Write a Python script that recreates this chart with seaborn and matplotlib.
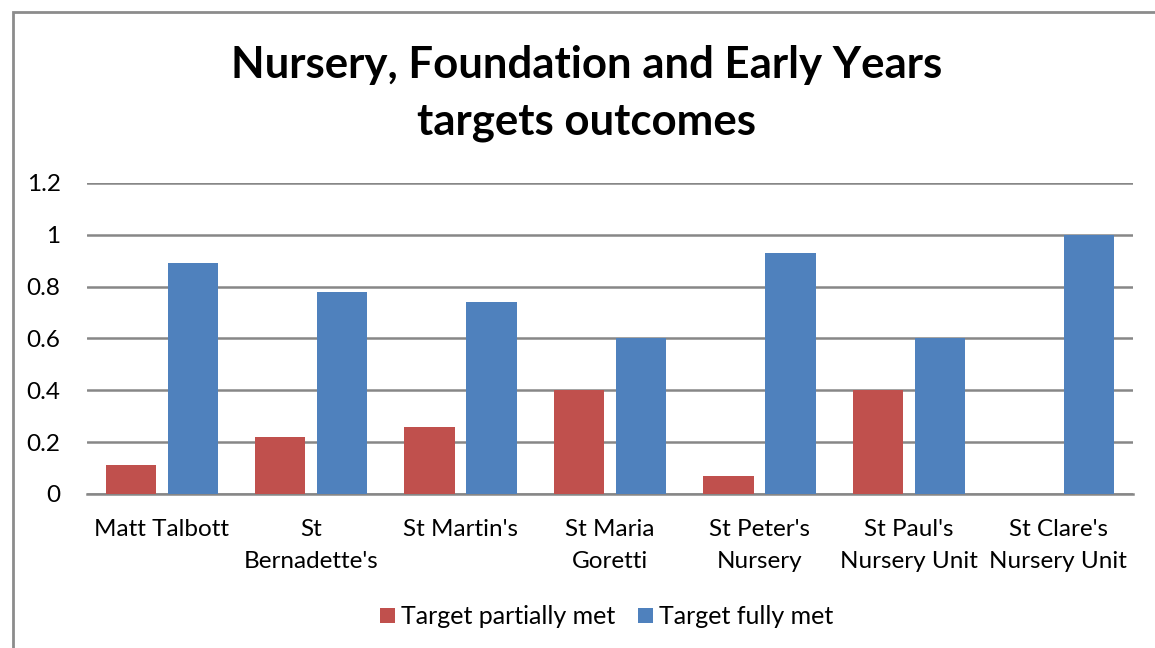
import matplotlib
matplotlib.use("Agg")
import matplotlib.pyplot as plt
import matplotlib.patches as mpatches
import seaborn as sns
import pandas as pd

schools = ["Matt Talbott", "St\nBernadette's", "St Martin's", "St Maria\nGoretti",
           "St Peter's\nNursery", "St Paul's\nNursery Unit", "St Clare's\nNursery Unit"]
partially_met = [0.11, 0.22, 0.26, 0.40, 0.07, 0.40, 0.0]
fully_met = [0.89, 0.78, 0.74, 0.60, 0.93, 0.60, 1.0]
series = ["Target partially met", "Target fully met"]
colors = ["#C0504D", "#4F81BD"]

df = pd.DataFrame({
    "school": schools * 2,
    "value": partially_met + fully_met,
    "series": [series[0]] * len(schools) + [series[1]] * len(schools),
})

sns.set_style("white")
plt.rcParams["font.family"] = ["Lato", "DejaVu Sans"]
plt.rcParams["text.color"] = "black"

fig = plt.figure(figsize=(11.55, 6.48), dpi=100)
ax = fig.add_axes([0.0753, 0.2377, 0.9057, 0.4799])

# chart frame
fig.patches.append(mpatches.Rectangle((13 / 1155, -0.05), 1.1, 1 - 12 / 648 + 0.05,
                                      transform=fig.transFigure, fill=False,
                                      edgecolor="#8c8c8c", linewidth=2))

sns.barplot(data=df, x="school", y="value", hue="series", palette=colors,
            saturation=1, width=0.83, gap=0.19, linewidth=0, edgecolor="none",
            ax=ax, legend=True, zorder=3)

ax.set_ylim(0, 1.2)
ax.set_xlim(-0.5, len(schools) - 0.5)
ax.set_yticks([0, 0.2, 0.4, 0.6, 0.8, 1.0, 1.2])
ax.set_yticklabels(["0", "0.2", "0.4", "0.6", "0.8", "1", "1.2"])
ax.yaxis.grid(True, color="#878787", linewidth=1.8)
ax.set_axisbelow(True)
for side in ["left", "right", "top"]:
    ax.spines[side].set_visible(False)
ax.spines["bottom"].set_color("#878787")
ax.spines["bottom"].set_linewidth(1.8)
ax.tick_params(axis="both", length=0, labelsize=17.5, colors="black")
ax.tick_params(axis="x", pad=18)
ax.tick_params(axis="y", pad=19)
for lbl in ax.get_xticklabels():
    lbl.set_linespacing(1.65)
ax.set_xlabel("")
ax.set_ylabel("")

fig.text(0.508, 0.855, "Nursery, Foundation and Early Years\ntargets outcomes",
         ha="center", va="center", fontsize=31.5, fontweight="bold",
         linespacing=1.5, color="black")

ax.legend(loc="center", bbox_to_anchor=(0.497, -0.395), ncol=2, frameon=False,
          fontsize=18, handlelength=0.6, handleheight=0.6, handletextpad=0.25,
          columnspacing=0.9)

fig.savefig("out.png", dpi=100)
